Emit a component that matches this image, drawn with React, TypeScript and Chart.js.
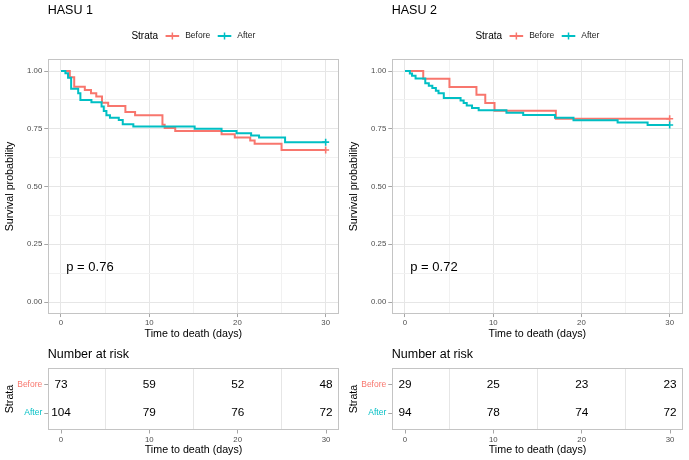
import React, { useEffect, useRef } from "react";
import { Chart, registerables } from "chart.js";

Chart.register(...registerables);

const FONT = "'Liberation Sans', Arial, Helvetica, sans-serif";
const COLOR_BEFORE = "#F8766D";
const COLOR_AFTER = "#00BFC4";

// ---------------- data ----------------
const strataLabels = ["Before", "After"];
const panelTitles = ["HASU 1", "HASU 2"];
const pValueTexts = ["p = 0.76", "p = 0.72"];
const xLabelledTicks = [0, 10, 20, 30];

const hasu1BeforeTime = [0, 1.0, 1.5, 2.7, 3.4, 4.0, 4.65, 5.35, 7.3, 8.4, 11.5, 11.75, 12.95, 18.2, 19.7, 21.45, 21.95, 25.0, 30];
const hasu1BeforeSurv = [1, 0.973, 0.932, 0.918, 0.904, 0.89, 0.863, 0.849, 0.822, 0.808, 0.767, 0.753, 0.74, 0.726, 0.712, 0.699, 0.685, 0.658, 0.658];

const hasu1AfterTime = [0, 0.5, 0.8, 1.15, 1.95, 2.2, 3.45, 4.6, 4.85, 5.15, 5.55, 6.55, 7.0, 8.2, 15.15, 18.2, 19.9, 21.55, 22.45, 25.4, 30];
const hasu1AfterSurv = [1, 0.99, 0.971, 0.923, 0.904, 0.875, 0.865, 0.846, 0.827, 0.808, 0.798, 0.788, 0.769, 0.76, 0.75, 0.74, 0.731, 0.721, 0.712, 0.692, 0.692];

const hasu2BeforeTime = [0, 2.07, 5.04, 8.1, 9.1, 10.15, 17.1, 30];
const hasu2BeforeSurv = [1, 0.966, 0.931, 0.897, 0.862, 0.828, 0.793, 0.793];

const hasu2AfterTime = [0, 0.55, 0.8, 1.2, 2.3, 2.7, 3.1, 3.5, 3.8, 4.4, 6.3, 6.65, 7.0, 7.6, 8.35, 11.5, 13.4, 17.0, 19.1, 24.1, 27.5, 30];
const hasu2AfterSurv = [1, 0.989, 0.979, 0.968, 0.947, 0.936, 0.926, 0.915, 0.904, 0.883, 0.872, 0.862, 0.851, 0.84, 0.83, 0.819, 0.809, 0.798, 0.787, 0.777, 0.766, 0.766];

const riskTimes = [0, 10, 20, 30];
const hasu1RiskBefore = [73, 59, 52, 48];
const hasu1RiskAfter = [104, 79, 76, 72];
const hasu2RiskBefore = [29, 25, 23, 23];
const hasu2RiskAfter = [94, 78, 74, 72];

// ---------------- layout / style ----------------
const PANEL_X = [0, 344];
const CANVAS_W = 344;
const KM_H = 346;
const RISK_H = 114;
const PLOT_LEFT = 47.75;
const PLOT_RIGHT_PAD = 4.7;
const GRID_MAJOR = "#e6e6e6";
const GRID_MINOR = "#f1f1f1";
const BORDER = "#c4c4c4";
const TICK_MARK = "#a6a6a6";
const TICK_TEXT = "#4d4d4d";
const NONE = "rgba(0,0,0,0)";

const isMajorX = (v: number) => xLabelledTicks.includes(Math.round(v * 1000) / 1000);
const isMajorY = (v: number) => Math.abs(v * 4 - Math.round(v * 4)) < 1e-6;

const borderPlugin = {
  id: "panelBorder",
  afterDatasetsDraw(chart: any) {
    const { ctx, chartArea: a } = chart;
    ctx.save();
    ctx.strokeStyle = BORDER;
    ctx.lineWidth = 1;
    ctx.strokeRect(Math.round(a.left) + 0.5, Math.round(a.top) + 0.5, Math.round(a.right) - Math.round(a.left) - 1, Math.round(a.bottom) - Math.round(a.top) - 1);
    ctx.restore();
  },
};

const kmDecorPlugin = {
  id: "kmDecor",
  afterDraw(chart: any, _args: any, opts: any) {
    const { ctx, chartArea: a, scales } = chart;
    ctx.save();
    ctx.textBaseline = "middle";
    ctx.textAlign = "left";
    ctx.fillStyle = "#000";
    // title
    ctx.font = `12.5px ${FONT}`;
    ctx.fillText(opts.title, a.left, opts.titleY);
    // legend
    const ly = opts.legendY;
    ctx.font = `10px ${FONT}`;
    const wStrata = ctx.measureText("Strata").width;
    ctx.font = `8.5px ${FONT}`;
    const items = chart.data.datasets
      .map((d: any, i: number) => ({ label: d.label, color: d.borderColor, idx: i, w: ctx.measureText(d.label).width }))
      .sort((p: any, q: any) => p.idx - q.idx);
    const keyW = 13.6;
    const gapKey = 7.5;
    const gapText = 6;
    let total = wStrata;
    items.forEach((it: any) => (total += gapKey + keyW + gapText + it.w));
    let x = (a.left + a.right) / 2 - total / 2;
    ctx.font = `10px ${FONT}`;
    ctx.fillStyle = "#000";
    ctx.fillText("Strata", x, ly);
    x += wStrata;
    items.forEach((it: any) => {
      x += gapKey;
      ctx.strokeStyle = it.color;
      ctx.lineWidth = 2;
      ctx.beginPath();
      ctx.moveTo(x, ly);
      ctx.lineTo(x + keyW, ly);
      ctx.stroke();
      ctx.lineWidth = 1.5;
      ctx.beginPath();
      ctx.moveTo(x + keyW / 2, ly - 3.5);
      ctx.lineTo(x + keyW / 2, ly + 3.5);
      ctx.stroke();
      x += keyW + gapText;
      ctx.font = `8.5px ${FONT}`;
      ctx.fillStyle = "#1a1a1a";
      ctx.fillText(it.label, x, ly);
      x += it.w;
    });
    // p-value
    ctx.font = `13px ${FONT}`;
    ctx.fillStyle = "#000";
    ctx.fillText(opts.pText, scales.x.getPixelForValue(opts.pX), scales.y.getPixelForValue(opts.pY));
    ctx.restore();
  },
};

const riskDecorPlugin = {
  id: "riskDecor",
  afterDraw(chart: any, _args: any, opts: any) {
    const { ctx, chartArea: a } = chart;
    ctx.save();
    ctx.textBaseline = "middle";
    ctx.fillStyle = "#000";
    ctx.font = `12.5px ${FONT}`;
    ctx.textAlign = "left";
    ctx.fillText(opts.title, a.left, opts.titleY);
    ctx.font = `11.8px ${FONT}`;
    ctx.textAlign = "center";
    chart.data.datasets.forEach((d: any, i: number) => {
      const meta = chart.getDatasetMeta(i);
      meta.data.forEach((pt: any, j: number) => {
        ctx.fillText(String(d.data[j].n), pt.x, pt.y);
      });
    });
    ctx.restore();
  },
};

function xAxisBase(height: number, titlePadBottom: number, gridColor: (c: any) => string) {
  return {
    type: "linear" as const,
    min: -1.5,
    max: 31.5,
    afterFit: (s: any) => {
      s.height = height;
    },
    ticks: {
      stepSize: 5,
      includeBounds: false,
      autoSkip: false,
      maxRotation: 0,
      padding: 1.5,
      color: TICK_TEXT,
      font: { family: FONT, size: 7.8 },
      callback: (v: any) => (isMajorX(Number(v)) ? String(v) : ""),
    },
    grid: {
      color: gridColor,
      lineWidth: 1,
      tickLength: 3.5,
      tickColor: (c: any) => (c.tick && isMajorX(c.tick.value) ? TICK_MARK : NONE),
    },
    border: { display: false },
    title: {
      display: true,
      text: "Time to death (days)",
      color: "#000",
      font: { family: FONT, size: 10.7 },
      padding: { top: 0, bottom: titlePadBottom },
    },
  };
}

function KMChart({ idx, before, after }: any) {
  const ref = useRef<HTMLCanvasElement>(null);
  useEffect(() => {
    const mk = (label: string, color: string, time: number[], surv: number[], order: number) => ({
      label,
      data: time.map((t, i) => ({ x: t, y: surv[i] })),
      borderColor: color,
      backgroundColor: color,
      borderWidth: 2,
      stepped: "before" as const,
      tension: 0,
      fill: false,
      order,
      pointStyle: "cross" as const,
      pointRadius: (c: any) => (c.dataIndex === time.length - 1 ? 3.5 : 0),
      pointHoverRadius: 0,
      pointBorderWidth: 1.6,
      pointBorderColor: color,
    });
    const chart = new Chart(ref.current as HTMLCanvasElement, {
      type: "line",
      data: {
        datasets: [
          mk(strataLabels[0], COLOR_BEFORE, before.time, before.surv, 1),
          mk(strataLabels[1], COLOR_AFTER, after.time, after.surv, 0),
        ],
      },
      options: {
        animation: false,
        responsive: false,
        events: [],
        layout: { padding: { top: 59.45, right: PLOT_RIGHT_PAD, left: 0, bottom: 0 } },
        plugins: {
          legend: { display: false },
          title: { display: false },
          tooltip: { enabled: false },
          kmDecor: {
            title: panelTitles[idx],
            titleY: 11,
            legendY: 36,
            pText: pValueTexts[idx],
            pX: 0.6,
            pY: 0.15,
          },
        } as any,
        scales: {
          x: xAxisBase(KM_H - 313.55, 6, (c: any) => (c.tick && isMajorX(c.tick.value) ? GRID_MAJOR : GRID_MINOR)),
          y: {
            type: "linear",
            min: -0.05,
            max: 1.05,
            afterFit: (s: any) => {
              s.width = PLOT_LEFT;
            },
            ticks: {
              stepSize: 0.125,
              includeBounds: false,
              autoSkip: false,
              padding: 2,
              color: TICK_TEXT,
              font: { family: FONT, size: 7.8 },
              callback: (v: any) => (isMajorY(Number(v)) ? Number(v).toFixed(2) : ""),
            },
            grid: {
              color: (c: any) => (c.tick && isMajorY(c.tick.value) ? GRID_MAJOR : GRID_MINOR),
              lineWidth: 1,
              tickLength: 3.5,
              tickColor: (c: any) => (c.tick && isMajorY(c.tick.value) ? TICK_MARK : NONE),
            },
            border: { display: false },
            title: {
              display: true,
              text: "Survival probability",
              color: "#000",
              font: { family: FONT, size: 10.7 },
              padding: { top: 3.6, bottom: 0 },
            },
          },
        } as any,
      },
      plugins: [borderPlugin, kmDecorPlugin],
    });
    return () => chart.destroy();
  }, []);
  return (
    <canvas
      ref={ref}
      width={CANVAS_W}
      height={KM_H}
      style={{ position: "absolute", left: PANEL_X[idx], top: 0, width: CANVAS_W, height: KM_H }}
    />
  );
}

function RiskTable({ idx, before, after }: any) {
  const ref = useRef<HTMLCanvasElement>(null);
  useEffect(() => {
    const chart = new Chart(ref.current as HTMLCanvasElement, {
      type: "scatter",
      data: {
        datasets: [
          {
            label: strataLabels[0],
            data: riskTimes.map((t, i) => ({ x: t, y: 1, n: before[i] })) as any,
            pointRadius: 0,
            showLine: false,
          },
          {
            label: strataLabels[1],
            data: riskTimes.map((t, i) => ({ x: t, y: 2, n: after[i] })) as any,
            pointRadius: 0,
            showLine: false,
          },
        ],
      },
      options: {
        animation: false,
        responsive: false,
        events: [],
        layout: { padding: { top: 22, right: PLOT_RIGHT_PAD, left: 0, bottom: 0 } },
        plugins: {
          legend: { display: false },
          tooltip: { enabled: false },
          riskDecor: { title: "Number at risk", titleY: 9 },
        } as any,
        scales: {
          x: xAxisBase(30, 3.6, (c: any) => (c.tick && isMajorX(c.tick.value) ? NONE : GRID_MAJOR)),
          y: {
            type: "linear",
            min: 0.4,
            max: 2.6,
            reverse: true,
            afterFit: (s: any) => {
              s.width = PLOT_LEFT;
            },
            ticks: {
              stepSize: 1,
              includeBounds: false,
              autoSkip: false,
              padding: 2,
              font: { family: FONT, size: 8.5 },
              color: (c: any) => (c.tick && c.tick.value === 1 ? COLOR_BEFORE : COLOR_AFTER),
              callback: (v: any) => (Number(v) === 1 ? strataLabels[0] : Number(v) === 2 ? strataLabels[1] : ""),
            },
            grid: {
              drawOnChartArea: false,
              tickLength: 3.5,
              tickColor: TICK_MARK,
            },
            border: { display: false },
            title: {
              display: true,
              text: "Strata",
              color: "#000",
              font: { family: FONT, size: 10.7 },
              padding: { top: 3.6, bottom: 0 },
            },
          },
        } as any,
      },
      plugins: [borderPlugin, riskDecorPlugin],
    });
    return () => chart.destroy();
  }, []);
  return (
    <canvas
      ref={ref}
      width={CANVAS_W}
      height={RISK_H}
      style={{ position: "absolute", left: PANEL_X[idx], top: KM_H, width: CANVAS_W, height: RISK_H }}
    />
  );
}

export default function App() {
  return (
    <div
      style={{
        position: "fixed",
        left: 0,
        top: 0,
        width: 689,
        height: 460,
        background: "#ffffff",
        overflow: "hidden",
      }}
    >
      <KMChart idx={0} before={{ time: hasu1BeforeTime, surv: hasu1BeforeSurv }} after={{ time: hasu1AfterTime, surv: hasu1AfterSurv }} />
      <KMChart idx={1} before={{ time: hasu2BeforeTime, surv: hasu2BeforeSurv }} after={{ time: hasu2AfterTime, surv: hasu2AfterSurv }} />
      <RiskTable idx={0} before={hasu1RiskBefore} after={hasu1RiskAfter} />
      <RiskTable idx={1} before={hasu2RiskBefore} after={hasu2RiskAfter} />
    </div>
  );
}
